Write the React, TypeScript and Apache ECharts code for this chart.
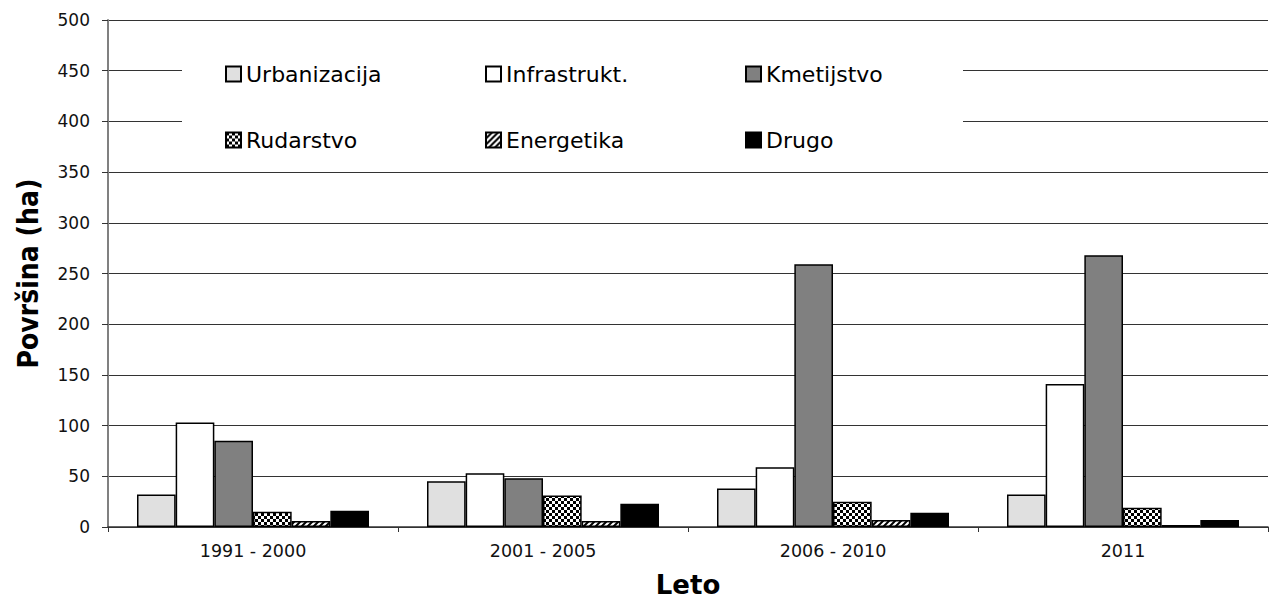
import React, { useEffect, useRef } from "react";
import * as echarts from "echarts";

const categories = ["1991 - 2000", "2001 - 2005", "2006 - 2010", "2011"];
const seriesNames = ["Urbanizacija", "Infrastrukt.", "Kmetijstvo", "Rudarstvo", "Energetika", "Drugo"];
const urbanizacija = [32, 45, 38, 32];
const infrastrukt = [103, 53, 59, 141];
const kmetijstvo = [85, 48, 259, 268];
const rudarstvo = [15, 31, 25, 19];
const energetika = [6, 6, 7, 2];
const drugo = [16, 23, 14, 7];
const yTicks = [0, 50, 100, 150, 200, 250, 300, 350, 400, 450, 500];

function makeChecker(): HTMLCanvasElement {
  const c = document.createElement("canvas");
  c.width = 6;
  c.height = 6;
  const ctx = c.getContext("2d")!;
  ctx.fillStyle = "#ffffff";
  ctx.fillRect(0, 0, 6, 6);
  ctx.fillStyle = "#000000";
  ctx.fillRect(0, 0, 3, 3);
  ctx.fillRect(3, 3, 3, 3);
  return c;
}

function makeStripes(): HTMLCanvasElement {
  const c = document.createElement("canvas");
  c.width = 6;
  c.height = 6;
  const ctx = c.getContext("2d")!;
  ctx.fillStyle = "#ffffff";
  ctx.fillRect(0, 0, 6, 6);
  ctx.strokeStyle = "#000000";
  ctx.lineWidth = 2;
  ctx.beginPath();
  ctx.moveTo(-1, 7);
  ctx.lineTo(7, -1);
  ctx.moveTo(-4, 4);
  ctx.lineTo(4, -4);
  ctx.moveTo(2, 10);
  ctx.lineTo(10, 2);
  ctx.stroke();
  return c;
}

export default function App() {
  const ref = useRef<HTMLDivElement>(null);
  useEffect(() => {
    if (!ref.current) return;
    const chart = echarts.init(ref.current, null, { renderer: "svg" });
    const checker = { image: makeChecker(), repeat: "repeat", imageWidth: 6, imageHeight: 6 } as any;
    const stripes = { image: makeStripes(), repeat: "repeat", imageWidth: 6, imageHeight: 6 } as any;
    const colors: any[] = ["#e0e0e0", "#ffffff", "#808080", checker, stripes, "#000000"];
    const data = [urbanizacija, infrastrukt, kmetijstvo, rudarstvo, energetika, drugo];
    const font = "'DejaVu Sans', 'Liberation Sans', Arial, sans-serif";
    chart.setOption({
      animation: false,
      backgroundColor: "#ffffff",
      grid: { left: 108, right: 3, top: 20, bottom: 70 },
      legend: {
        data: seriesNames,
        left: 182,
        top: 48,
        width: 790,
        orient: "horizontal",
        icon: "rect",
        itemWidth: 15,
        itemHeight: 15,
        itemGap: 44,
        itemTextGap: 19,
        padding: [15, 2, 15, 43],
        backgroundColor: "#ffffff",
        textStyle: { fontFamily: font, fontSize: 22, color: "#000", width: 195, lineHeight: 15 },
        selectedMode: false,
      },
      xAxis: {
        type: "category",
        data: categories,
        name: "Leto",
        nameLocation: "middle",
        nameGap: 45,
        nameTextStyle: { fontFamily: font, fontSize: 26, fontWeight: "bold", color: "#000" },
        axisLine: { lineStyle: { color: "#333", width: 1.5 } },
        axisTick: { show: true, length: 5, lineStyle: { color: "#333" } },
        axisLabel: { fontFamily: font, fontSize: 17.5, color: "#111", margin: 15 },
      },
      yAxis: {
        type: "value",
        min: 0,
        max: 500,
        interval: 50,
        name: "Površina (ha)",
        nameLocation: "middle",
        nameGap: 66,
        nameRotate: 90,
        nameTextStyle: {
          fontFamily: "'Liberation Sans Narrow', 'DejaVu Sans Condensed', sans-serif",
          fontSize: 28,
          fontWeight: "bold",
          color: "#000",
        },
        axisLine: { show: true, lineStyle: { color: "#808080", width: 2 } },
        axisTick: { show: true, length: 6, inside: false, lineStyle: { color: "#333" } },
        axisLabel: {
          fontFamily: font,
          fontSize: 17,
          color: "#111",
          margin: 18,
          formatter: (v: number) => (yTicks.indexOf(v) >= 0 ? String(v) : ""),
        },
        splitLine: { show: true, lineStyle: { color: "#333", width: 1 } },
      },
      series: seriesNames.map((name, i) => ({
        name,
        type: "bar",
        data: data[i],
        barGap: "0%",
        barCategoryGap: "20%",
        itemStyle: { color: colors[i], borderColor: "#000", borderWidth: 1.5 },
      })),
    });
    return () => chart.dispose();
  }, []);
  return <div ref={ref} style={{ width: 1271, height: 603, position: "absolute", left: 0, top: 0 }} />;
}
